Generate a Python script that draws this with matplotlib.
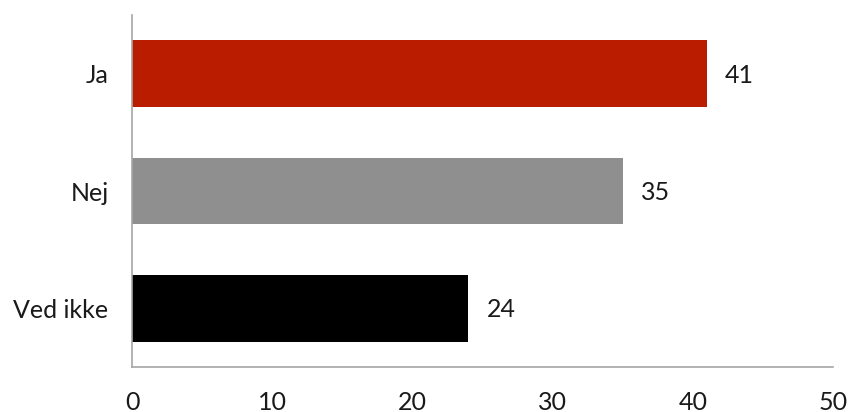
import matplotlib
matplotlib.use("Agg")
import matplotlib.pyplot as plt

categories = ["Ja", "Nej", "Ved ikke"]
values = [41, 35, 24]
colors = ["#BA1C00", "#8F8F8F", "#000000"]
xticks = [0, 10, 20, 30, 40, 50]

plt.rcParams['font.family'] = ['Lato', 'DejaVu Sans']

fig = plt.figure(figsize=(8.51, 4.12), dpi=100)
ax = fig.add_axes([132/851, 45/412, (833-132)/851, (367-15)/412])

pos = list(range(len(categories)))
ax.barh(pos, values, height=0.57, color=colors)
ax.set_ylim(len(categories) - 0.5, -0.5)
ax.set_xlim(0, 50)
ax.set_yticks(pos)
ax.set_yticklabels(categories)
ax.set_xticks(xticks)
ax.set_xticklabels([str(t) for t in xticks])
ax.tick_params(axis='both', length=0, labelsize=18, colors='#1a1a1a')
ax.tick_params(axis='x', pad=17)
ax.tick_params(axis='y', pad=17)
for s in ['top', 'right']:
    ax.spines[s].set_visible(False)
for s in ['left', 'bottom']:
    ax.spines[s].set_color('#A6A6A6')
    ax.spines[s].set_linewidth(1.2)

for p, v in zip(pos, values):
    ax.annotate(str(v), (v, p), xytext=(13, -1), textcoords='offset points',
                va='center', ha='left', fontsize=18, color='#1a1a1a')

fig.savefig("out.png", dpi=100)
